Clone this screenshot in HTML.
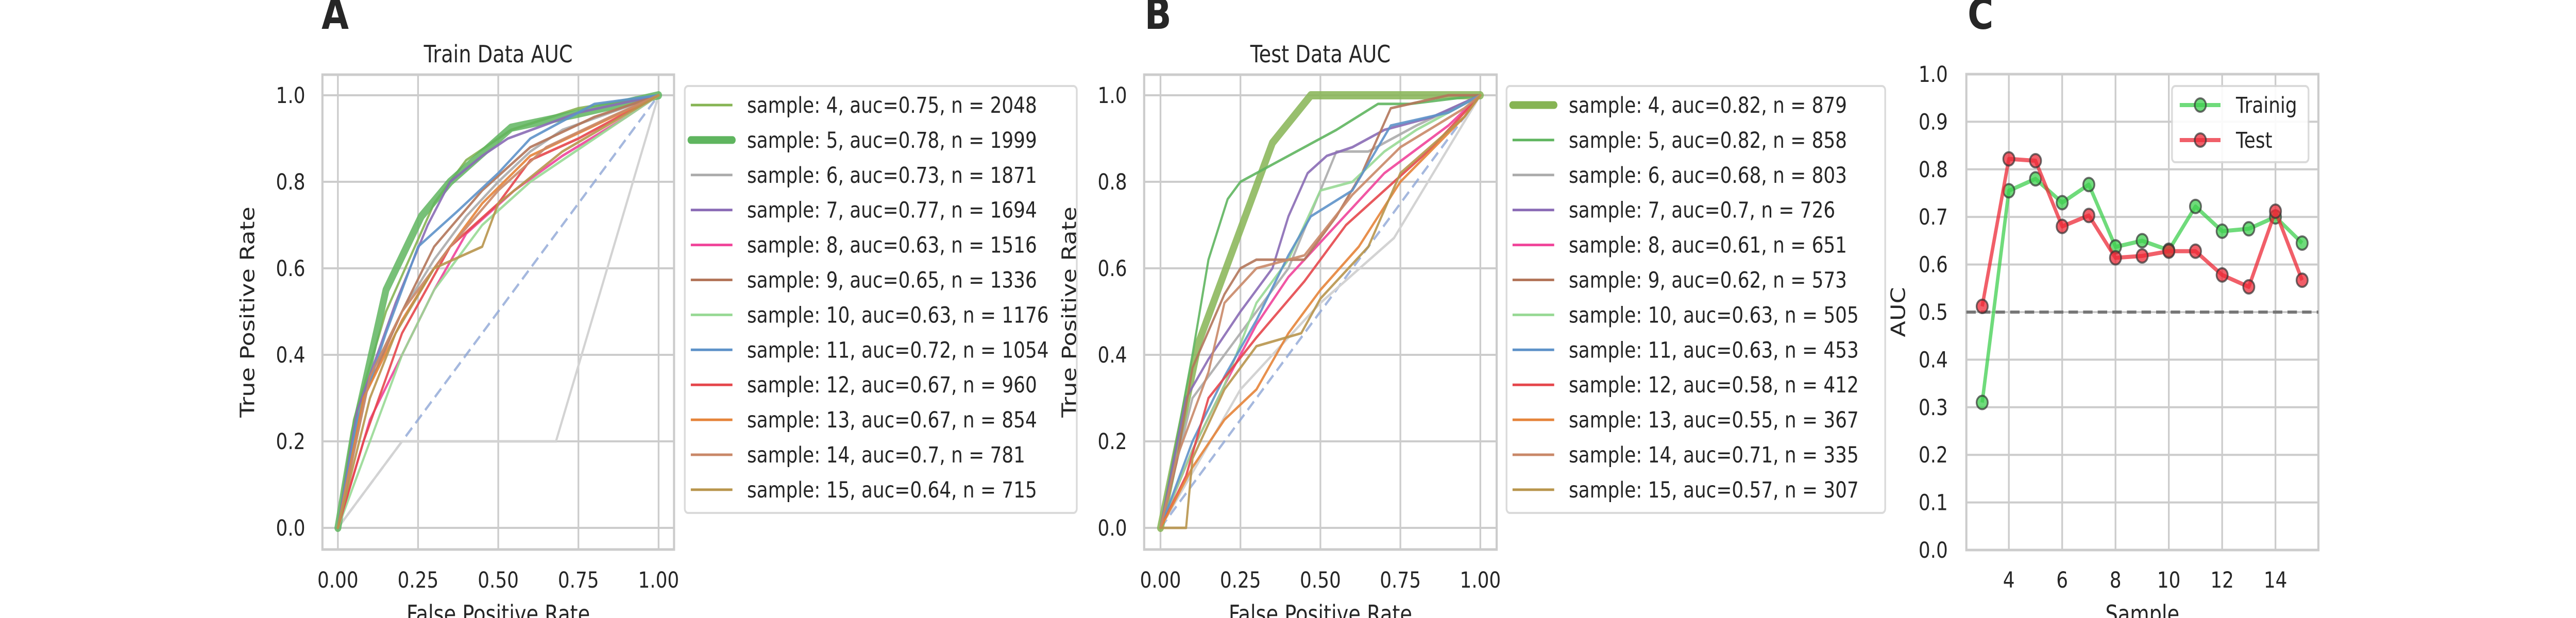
<!DOCTYPE html>
<html><head><meta charset="utf-8">
<style>
html,body{margin:0;padding:0;background:#fff;width:100%;height:100%;overflow:hidden;}
svg{display:block;width:100vw;height:100vh;font-family:"DejaVu Sans","Liberation Sans",sans-serif;}
</style></head>
<body>
<svg id="fig" viewBox="0 0 6000 1200" preserveAspectRatio="none" xmlns="http://www.w3.org/2000/svg"></svg>
<script>
// ---------- data ----------
const trainLabels = ["sample: 4, auc=0.75, n = 2048","sample: 5, auc=0.78, n = 1999","sample: 6, auc=0.73, n = 1871","sample: 7, auc=0.77, n = 1694","sample: 8, auc=0.63, n = 1516","sample: 9, auc=0.65, n = 1336","sample: 10, auc=0.63, n = 1176","sample: 11, auc=0.72, n = 1054","sample: 12, auc=0.67, n = 960","sample: 13, auc=0.67, n = 854","sample: 14, auc=0.7, n = 781","sample: 15, auc=0.64, n = 715"];
const testLabels = ["sample: 4, auc=0.82, n = 879","sample: 5, auc=0.82, n = 858","sample: 6, auc=0.68, n = 803","sample: 7, auc=0.7, n = 726","sample: 8, auc=0.61, n = 651","sample: 9, auc=0.62, n = 573","sample: 10, auc=0.63, n = 505","sample: 11, auc=0.63, n = 453","sample: 12, auc=0.58, n = 412","sample: 13, auc=0.55, n = 367","sample: 14, auc=0.71, n = 335","sample: 15, auc=0.57, n = 307"];
const rocColors = ["#86b453","#5fb55f","#ababab","#8a6bb5","#f0449a","#b3765a","#98d995","#5e92c9","#e5474c","#e5843a","#c98868","#b8954c"];
const extraTrain = [[0,0],[0.2,0.2],[0.68,0.2],[1,1]];
const extraTest = [[0,0],[0.25,0.32],[0.5,0.52],[0.73,0.67],[1,1]];
const trainCurves = [
 [[0,0],[0.05,0.25],[0.15,0.5],[0.3,0.75],[0.4,0.85],[0.54,0.92],[0.75,0.97],[1,1]],
 [[0,0],[0.05,0.22],[0.15,0.55],[0.26,0.72],[0.35,0.8],[0.54,0.925],[0.74,0.956],[1,1]],
 [[0,0],[0.1,0.35],[0.2,0.5],[0.3,0.62],[0.4,0.72],[0.5,0.8],[0.6,0.87],[0.7,0.92],[1,1]],
 [[0,0],[0.06,0.27],[0.18,0.52],[0.28,0.7],[0.35,0.8],[0.45,0.86],[0.53,0.9],[0.75,0.96],[1,1]],
 [[0,0],[0.1,0.25],[0.2,0.4],[0.3,0.55],[0.4,0.68],[0.55,0.78],[0.7,0.86],[0.9,0.95],[1,1]],
 [[0,0],[0.08,0.3],[0.2,0.5],[0.3,0.65],[0.45,0.78],[0.6,0.88],[0.8,0.95],[1,1]],
 [[0,0],[0.1,0.2],[0.2,0.4],[0.3,0.55],[0.45,0.7],[0.6,0.8],[0.8,0.9],[1,1]],
 [[0,0],[0.06,0.25],[0.15,0.45],[0.25,0.65],[0.37,0.73],[0.5,0.82],[0.6,0.9],[0.8,0.98],[1,1]],
 [[0,0],[0.08,0.2],[0.2,0.45],[0.35,0.65],[0.5,0.75],[0.6,0.85],[0.75,0.9],[1,1]],
 [[0,0],[0.08,0.3],[0.2,0.48],[0.3,0.6],[0.45,0.75],[0.6,0.86],[0.8,0.93],[1,1]],
 [[0,0],[0.1,0.35],[0.2,0.5],[0.35,0.65],[0.5,0.78],[0.65,0.88],[0.85,0.95],[1,1]],
 [[0,0],[0.1,0.3],[0.18,0.45],[0.3,0.6],[0.45,0.65],[0.5,0.75],[0.7,0.87],[1,1]]
];
const testCurves = [
 [[0,0],[0.12,0.43],[0.35,0.89],[0.47,1],[1,1]],
 [[0,0],[0.1,0.4],[0.15,0.62],[0.21,0.76],[0.25,0.8],[0.4,0.86],[0.55,0.92],[0.68,0.98],[0.78,0.98],[1,1]],
 [[0,0],[0.1,0.3],[0.25,0.45],[0.4,0.6],[0.5,0.78],[0.55,0.87],[0.65,0.87],[0.8,0.93],[1,1]],
 [[0,0],[0.08,0.3],[0.15,0.39],[0.25,0.5],[0.35,0.6],[0.4,0.72],[0.46,0.82],[0.52,0.86],[0.6,0.88],[0.7,0.92],[0.85,0.95],[1,1]],
 [[0,0],[0.1,0.18],[0.2,0.33],[0.3,0.47],[0.4,0.58],[0.55,0.7],[0.7,0.82],[0.9,0.93],[1,1]],
 [[0,0],[0.05,0.15],[0.1,0.37],[0.2,0.54],[0.25,0.6],[0.3,0.62],[0.45,0.62],[0.55,0.72],[0.63,0.82],[0.72,0.97],[0.9,1],[1,1]],
 [[0,0],[0.1,0.18],[0.2,0.33],[0.3,0.52],[0.4,0.62],[0.5,0.78],[0.6,0.8],[0.7,0.87],[0.8,0.92],[1,1]],
 [[0,0],[0.1,0.2],[0.2,0.35],[0.3,0.48],[0.4,0.63],[0.47,0.72],[0.6,0.78],[0.72,0.93],[0.9,0.96],[1,1]],
 [[0,0],[0.08,0.12],[0.15,0.3],[0.3,0.44],[0.45,0.57],[0.58,0.7],[0.7,0.78],[0.85,0.88],[1,1]],
 [[0,0],[0.1,0.14],[0.2,0.25],[0.3,0.32],[0.4,0.45],[0.5,0.55],[0.62,0.65],[0.75,0.8],[0.95,0.95],[1,1]],
 [[0,0],[0.05,0.16],[0.15,0.36],[0.2,0.52],[0.3,0.6],[0.45,0.63],[0.6,0.77],[0.75,0.88],[0.95,0.97],[1,1]],
 [[0,0],[0.08,0],[0.1,0.16],[0.2,0.32],[0.3,0.42],[0.44,0.45],[0.5,0.53],[0.65,0.65],[0.75,0.82],[0.95,0.95],[1,1]]
];
const rocTicks = [0,0.25,0.5,0.75,1];
const rocTickLabels = ["0.00","0.25","0.50","0.75","1.00"];
const rocYTicks = [0,0.2,0.4,0.6,0.8,1];
const rocYTickLabels = ["0.0","0.2","0.4","0.6","0.8","1.0"];
const samples = [3,4,5,6,7,8,9,10,11,12,13,14,15];
const trainAuc = [0.31,0.755,0.78,0.73,0.768,0.637,0.65,0.63,0.722,0.67,0.675,0.70,0.645];
const testAuc = [0.512,0.822,0.818,0.68,0.703,0.614,0.618,0.628,0.628,0.578,0.553,0.712,0.567];
const cXTicks = [4,6,8,10,12,14];
const cYTicks = [0,0.1,0.2,0.3,0.4,0.5,0.6,0.7,0.8,0.9,1.0];
const cYTickLabels = ["0.0","0.1","0.2","0.3","0.4","0.5","0.6","0.7","0.8","0.9","1.0"];

// ---------- helpers ----------
const NS="http://www.w3.org/2000/svg";
const svg=document.getElementById('fig');
function mk(tag,attrs,parent){const e=document.createElementNS(NS,tag);for(const k in attrs)e.setAttribute(k,attrs[k]);(parent||svg).appendChild(e);return e;}
function txt(s,attrs,parent){const e=mk('text',attrs,parent);e.textContent=s;return e;}
const GRID="#cccccc", TXT="#262626";

function rocPanel(cfg){
  const g=mk('g',{});
  
  
  const fx0=cfg.fx0,fx1=cfg.fx1,fy0=145,fy1=1067;
  const sx=v=>cfg.dx0+v*(cfg.dx1-cfg.dx0);
  const sy=v=>1025-v*(1025-185);
  rocTicks.forEach((t,i)=>{
    const l=mk('line',{x1:sx(t),x2:sx(t),y1:fy0,y2:fy1,stroke:GRID,'stroke-width':4},g);
    
    
    const tl=txt(rocTickLabels[i],{x:sx(t),y:1141,'font-size':43,'text-anchor':'middle',fill:TXT},g);
    
    
  });
  rocYTicks.forEach((t,i)=>{
    const l=mk('line',{x1:fx0,x2:fx1,y1:sy(t),y2:sy(t),stroke:GRID,'stroke-width':4},g);
    
    
    const tl=txt(rocYTickLabels[i],{x:fx0-40,y:sy(t)+15,'font-size':43,'text-anchor':'end',fill:TXT},g);
    
    
  });
  const fr=mk('rect',{x:fx0,y:fy0,width:fx1-fx0,height:fy1-fy0,fill:'none',stroke:GRID,'stroke-width':5},g);
  
  
  const dg=mk('line',{x1:sx(0),y1:sy(0),x2:sx(1),y2:sy(1),stroke:'#8fa7d6','stroke-width':5,'stroke-dasharray':'22,12',opacity:0.8},g);
  
  
  const ex=mk('polyline',{points:cfg.extra.map(p=>sx(p[0])+','+sy(p[1])).join(' '),fill:'none',stroke:'#d3d3d3','stroke-width':5},g);
  
  
  cfg.curves.forEach((c,i)=>{
    const thick=i===cfg.thick;
    const p=mk('polyline',{points:c.map(pt=>sx(pt[0])+','+sy(pt[1])).join(' '),fill:'none',stroke:rocColors[i],'stroke-width':thick?16:5,'stroke-linejoin':'round','stroke-linecap':'round',opacity:thick?0.85:0.9},g);
    
    
  });
  const t=txt(cfg.title,{x:(fx0+fx1)/2,y:121,'font-size':46,'text-anchor':'middle',fill:TXT},g);
  
  
  const xl=txt('False Positive Rate',{x:(fx0+fx1)/2,y:1208,'font-size':46,'text-anchor':'middle',fill:TXT},g);
  
  
  const yl=txt('True Positive Rate',{x:0,y:0,'font-size':46,'text-anchor':'middle',fill:TXT,transform:`translate(${cfg.ylx},606) rotate(-90)`},g);
  
  
  const pl=txt(cfg.letter,{x:cfg.letterX,y:56,'font-size':82,'font-weight':'bold',fill:TXT},g);
  
  
  const lg=mk('g',{},g);
  
  
  const lb=mk('rect',{x:cfg.lx0,y:167,width:cfg.lx1-cfg.lx0,height:829,rx:8,fill:'#fff',stroke:'#d6d6d6','stroke-width':4,opacity:0.9},lg);
  
  
  cfg.labels.forEach((s,i)=>{
    const y=204+i*67.9;
    const thick=i===cfg.thick;
    const ln=mk('line',{x1:cfg.lx0+14,x2:cfg.lx0+111,y1:y,y2:y,stroke:rocColors[i],'stroke-width':thick?15:5,'stroke-linecap':thick?'round':'butt'},lg);
    
    
    const tt=txt(s,{x:cfg.lx0+145,y:y+15,'font-size':43,fill:TXT},lg);
    
    
  });
}
rocPanel({name:'train-roc-panel',fx0:751,fx1:1570,dx0:787,dx1:1534,curves:trainCurves,extra:extraTrain,labels:trainLabels,thick:1,title:'Train Data AUC',ylx:592,letter:'A',letterX:749,lx0:1595,lx1:2508});
rocPanel({name:'test-roc-panel',fx0:2665,fx1:3486,dx0:2703,dx1:3448,curves:testCurves,extra:extraTest,labels:testLabels,thick:0,title:'Test Data AUC',ylx:2506,letter:'B',letterX:2666,lx0:3509,lx1:4391});

// ---------- panel C ----------
(function(){
  const g=mk('g',{});
  
  
  const fx0=4580,fx1=5400,fy0=144,fy1=1068;
  const sx=v=>4679+(v-4)*62.1;
  const sy=v=>1068-v*(1068-144);
  cXTicks.forEach(t=>{
    const l=mk('line',{x1:sx(t),x2:sx(t),y1:fy0,y2:fy1,stroke:GRID,'stroke-width':4},g);
    
    
    const tl=txt(String(t),{x:sx(t),y:1141,'font-size':43,'text-anchor':'middle',fill:TXT},g);
    
    
  });
  cYTicks.forEach((t,i)=>{
    const l=mk('line',{x1:fx0,x2:fx1,y1:sy(t),y2:sy(t),stroke:GRID,'stroke-width':4},g);
    
    
    const tl=txt(cYTickLabels[i],{x:4537,y:sy(t)+15,'font-size':43,'text-anchor':'end',fill:TXT},g);
    
    
  });
  const fr=mk('rect',{x:fx0,y:fy0,width:fx1-fx0,height:fy1-fy0,fill:'none',stroke:GRID,'stroke-width':5},g);
  
  
  const ref=mk('line',{x1:fx0,x2:fx1,y1:sy(0.5),y2:sy(0.5),stroke:'#777','stroke-width':6,'stroke-dasharray':'22,12'},g);
  
  
  function series(vals,color,name){
    const pl=mk('polyline',{points:samples.map((s,i)=>sx(s)+','+sy(vals[i])).join(' '),fill:'none',stroke:color,'stroke-width':8,opacity:0.75,'stroke-linejoin':'round'},g);
    
    
    samples.forEach((s,i)=>{
      const c=mk('circle',{cx:sx(s),cy:sy(vals[i]),r:13,fill:color,'fill-opacity':0.75,stroke:'#333','stroke-opacity':0.7,'stroke-width':4},g);
      
      
    });
  }
  series(trainAuc,'#3fcf4f','training');
  series(testAuc,'#ec2a37','test');
  const xl=txt('Sample',{x:4990,y:1208,'font-size':46,'text-anchor':'middle',fill:TXT},g);
  
  
  const yl=txt('AUC',{x:0,y:0,'font-size':46,'text-anchor':'middle',fill:TXT,transform:'translate(4437,606) rotate(-90)'},g);
  
  
  const pl=txt('C',{x:4583,y:56,'font-size':82,'font-weight':'bold',fill:TXT},g);
  
  
  const lg=mk('g',{},g);
  
  
  const lb=mk('rect',{x:5059,y:167,width:318,height:148,rx:8,fill:'#fff',stroke:'#d6d6d6','stroke-width':4,opacity:0.9},lg);
  
  
  [['Trainig','#3fcf4f',204],['Test','#ec2a37',272]].forEach(e=>{
    const ln=mk('line',{x1:5077,x2:5172,y1:e[2],y2:e[2],stroke:e[1],'stroke-width':8,opacity:0.75},lg);
    
    
    const c=mk('circle',{cx:5125,cy:e[2],r:13,fill:e[1],'fill-opacity':0.75,stroke:'#333','stroke-opacity':0.7,'stroke-width':4},lg);
    
    
    const t=txt(e[0],{x:5208,y:e[2]+15,'font-size':43,fill:TXT},lg);
    
    
  });
})();
</script>
</body></html>
